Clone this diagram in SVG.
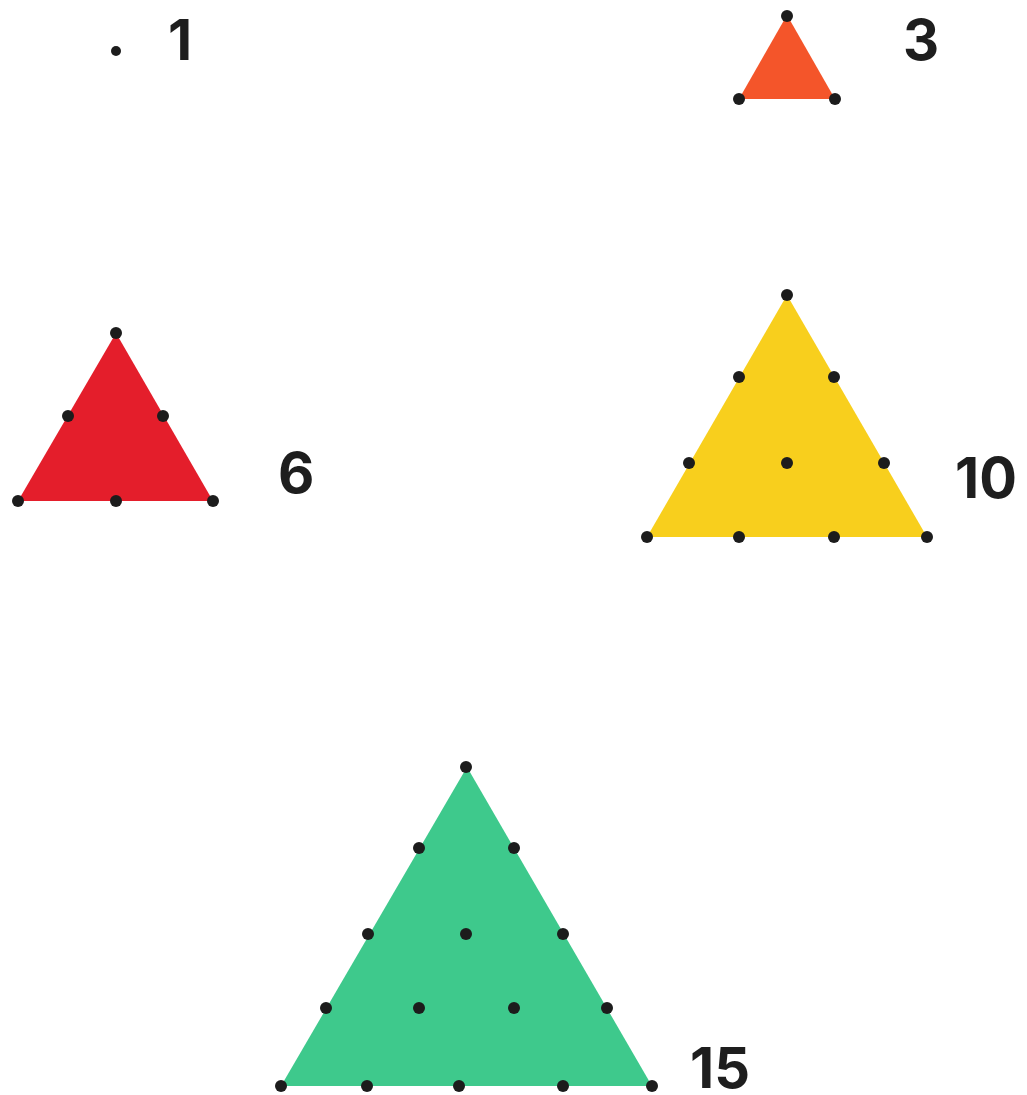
<svg xmlns="http://www.w3.org/2000/svg" width="1027" height="1095" viewBox="0 0 1027 1095">
<style>
.dot{fill:#1c1c1c}
.lbl{font-family:Inter,"Liberation Sans",sans-serif;font-weight:700;font-size:56px;fill:#1e1e1e}
</style>
<rect width="1027" height="1095" fill="#ffffff"/>
<g id="t1">
<circle class="dot" cx="116" cy="51" r="5"/>
<text class="lbl" x="168" y="60">1</text>
</g>
<g id="t3">
<polygon points="787,15 739,99 835,99" fill="#f4552a"/>
<circle class="dot" cx="787" cy="16" r="6"/>
<circle class="dot" cx="739" cy="99" r="6"/>
<circle class="dot" cx="835" cy="99" r="6"/>
<text class="lbl" x="903" y="60">3</text>
</g>
<g id="t6">
<polygon points="116,333 18,501 213,501" fill="#e41e2b"/>
<circle class="dot" cx="116" cy="333" r="6"/>
<circle class="dot" cx="68" cy="416" r="6"/>
<circle class="dot" cx="163" cy="416" r="6"/>
<circle class="dot" cx="18" cy="501" r="6"/>
<circle class="dot" cx="116" cy="501" r="6"/>
<circle class="dot" cx="213" cy="501" r="6"/>
<text class="lbl" x="278" y="493">6</text>
</g>
<g id="t10">
<polygon points="787,295 647,537 927,537" fill="#f8cf1d"/>
<circle class="dot" cx="787" cy="295" r="6"/>
<circle class="dot" cx="739" cy="377" r="6"/>
<circle class="dot" cx="834" cy="377" r="6"/>
<circle class="dot" cx="689" cy="463" r="6"/>
<circle class="dot" cx="787" cy="463" r="6"/>
<circle class="dot" cx="884" cy="463" r="6"/>
<circle class="dot" cx="647" cy="537" r="6"/>
<circle class="dot" cx="739" cy="537" r="6"/>
<circle class="dot" cx="834" cy="537" r="6"/>
<circle class="dot" cx="927" cy="537" r="6"/>
<text class="lbl" x="955" y="498">10</text>
</g>
<g id="t15">
<polygon points="467,767 281,1086 652,1086" fill="#3ec98c"/>
<circle class="dot" cx="466" cy="767" r="6"/>
<circle class="dot" cx="419" cy="848" r="6"/>
<circle class="dot" cx="514" cy="848" r="6"/>
<circle class="dot" cx="368" cy="934" r="6"/>
<circle class="dot" cx="466" cy="934" r="6"/>
<circle class="dot" cx="563" cy="934" r="6"/>
<circle class="dot" cx="326" cy="1008" r="6"/>
<circle class="dot" cx="419" cy="1008" r="6"/>
<circle class="dot" cx="514" cy="1008" r="6"/>
<circle class="dot" cx="607" cy="1008" r="6"/>
<circle class="dot" cx="281" cy="1086" r="6"/>
<circle class="dot" cx="367" cy="1086" r="6"/>
<circle class="dot" cx="459" cy="1086" r="6"/>
<circle class="dot" cx="563" cy="1086" r="6"/>
<circle class="dot" cx="652" cy="1086" r="6"/>
<text class="lbl" x="690" y="1088">15</text>
</g>
<g id="connectors"/>
</svg>
